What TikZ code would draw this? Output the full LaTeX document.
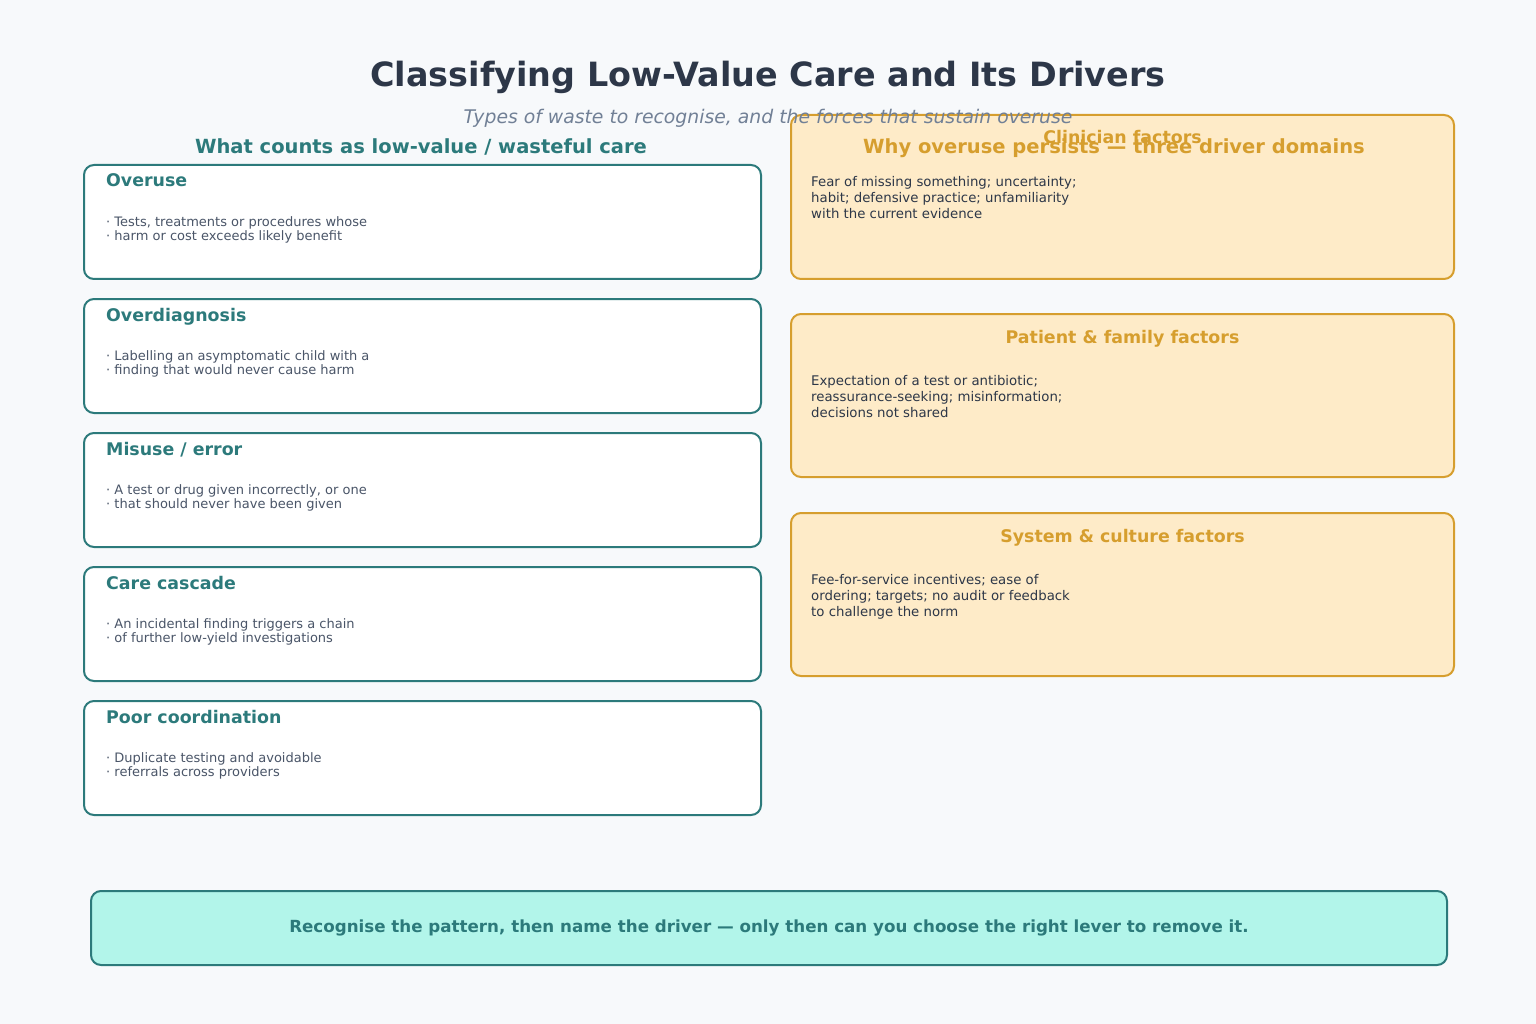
\documentclass[tikz,border=0pt]{standalone}
\usepackage{fontspec}
\setmainfont{DejaVu Sans}
\usetikzlibrary{positioning, calc}

\definecolor{pagebg}{HTML}{F7F9FB}
\definecolor{inkdark}{HTML}{2D3748}
\definecolor{inkgray}{HTML}{4A5568}
\definecolor{subgray}{HTML}{718096}
\definecolor{teal}{HTML}{2C7A7B}
\definecolor{amber}{HTML}{D69E2E}
\definecolor{amberfill}{HTML}{FEEBC8}
\definecolor{mint}{HTML}{B2F5EA}

\newcommand{\fs}[2]{\fontsize{#1}{#2}\selectfont}

\begin{document}
\begin{tikzpicture}[
  x=1pt, y=-1pt,
  waste/.style={rectangle, rounded corners=10pt, draw=teal, line width=2pt,
                fill=white, minimum width=677pt, minimum height=114pt,
                anchor=north west, inner sep=0pt},
  wastehead/.style={anchor=base west, inner sep=0pt, text=teal,
                    font=\fs{17.4}{21}\bfseries},
  wastetext/.style={anchor=north west, inner sep=0pt, align=left,
                    text=inkgray, font=\fs{13}{14}},
  driver/.style={rectangle, rounded corners=10pt, draw=amber, line width=2pt,
                 fill=amberfill, minimum width=663pt, minimum height=164pt,
                 anchor=north west, inner sep=0pt},
  driverhead/.style={anchor=base, inner sep=0pt, text=amber,
                     font=\fs{17.4}{21}\bfseries},
  drivertext/.style={anchor=north west, inner sep=0pt, align=left,
                     text=inkdark, font=\fs{13.3}{16}},
  colhead/.style={anchor=base, inner sep=0pt, font=\fs{19.5}{24}\bfseries},
]
\fill [pagebg] (0,0) rectangle (1536,1024);
\useasboundingbox (0,0) rectangle (1536,1024);

% left column: types of waste
\node (overuse)  [waste] at (83,164) {};
\node (overdiag) [waste] at (83,298) {};
\node (misuse)   [waste] at (83,432) {};
\node (cascade)  [waste] at (83,566) {};
\node (coord)    [waste] at (83,700) {};

\node [wastehead] at ($(overuse.north west)+(23,23)$)  {Overuse};
\node [wastehead] at ($(overdiag.north west)+(23,23)$) {Overdiagnosis};
\node [wastehead] at ($(misuse.north west)+(23,23)$)   {Misuse / error};
\node [wastehead] at ($(cascade.north west)+(23,23)$)  {Care cascade};
\node [wastehead] at ($(coord.north west)+(23,23)$)    {Poor coordination};

\node [wastetext] at ($(overuse.north west)+(23,52)$)
  {· Tests, treatments or procedures whose\\· harm or cost exceeds likely benefit};
\node [wastetext] at ($(overdiag.north west)+(23,52)$)
  {· Labelling an asymptomatic child with a\\· finding that would never cause harm};
\node [wastetext] at ($(misuse.north west)+(23,52)$)
  {· A test or drug given incorrectly, or one\\· that should never have been given};
\node [wastetext] at ($(cascade.north west)+(23,52)$)
  {· An incidental finding triggers a chain\\· of further low-yield investigations};
\node [wastetext] at ($(coord.north west)+(23,52)$)
  {· Duplicate testing and avoidable\\· referrals across providers};

% right column: driver domains
\node (clinician) [driver] at (790,114) {};
\node (patient)   [driver, minimum height=163pt] at (790,313) {};
\node (system)    [driver, minimum height=163pt] at (790,512) {};

\node [driverhead] at ($(clinician.north)+(0,30)$) {Clinician factors};
\node [driverhead] at ($(patient.north)+(0,30)$)   {Patient \& family factors};
\node [driverhead] at ($(system.north)+(0,30)$)    {System \& culture factors};

\node [drivertext] at ($(clinician.north west)+(21,62)$)
  {Fear of missing something; uncertainty;\\habit; defensive practice; unfamiliarity\\with the current evidence};
\node [drivertext] at ($(patient.north west)+(21,62)$)
  {Expectation of a test or antibiotic;\\reassurance-seeking; misinformation;\\decisions not shared};
\node [drivertext] at ($(system.north west)+(21,62)$)
  {Fee-for-service incentives; ease of\\ordering; targets; no audit or feedback\\to challenge the norm};

% titles and column headings
\node (title) [anchor=base, inner sep=0pt, text=inkdark, font=\fs{33.4}{38}\bfseries]
  at (768,87) {Classifying Low-Value Care and Its Drivers};
\node (subtitle) [anchor=base, inner sep=0pt, text=subgray, font=\fs{18.8}{23}\itshape]
  at (768,124) {Types of waste to recognise, and the forces that sustain overuse};
\node (lefthead)  [colhead, text=teal]  at (421,154) {What counts as low-value / wasteful care};
\node (righthead) [colhead, text=amber] at (1114,154) {Why overuse persists — three driver domains};

% bottom message
\node (message) [rectangle, rounded corners=10pt, draw=teal, line width=2pt, fill=mint,
                 minimum width=1356pt, minimum height=74pt, anchor=north west,
                 text=teal, font=\fs{16.7}{20}\bfseries] at (90,890)
  {Recognise the pattern, then name the driver — only then can you choose the right lever to remove it.};
\end{tikzpicture}
\end{document}
